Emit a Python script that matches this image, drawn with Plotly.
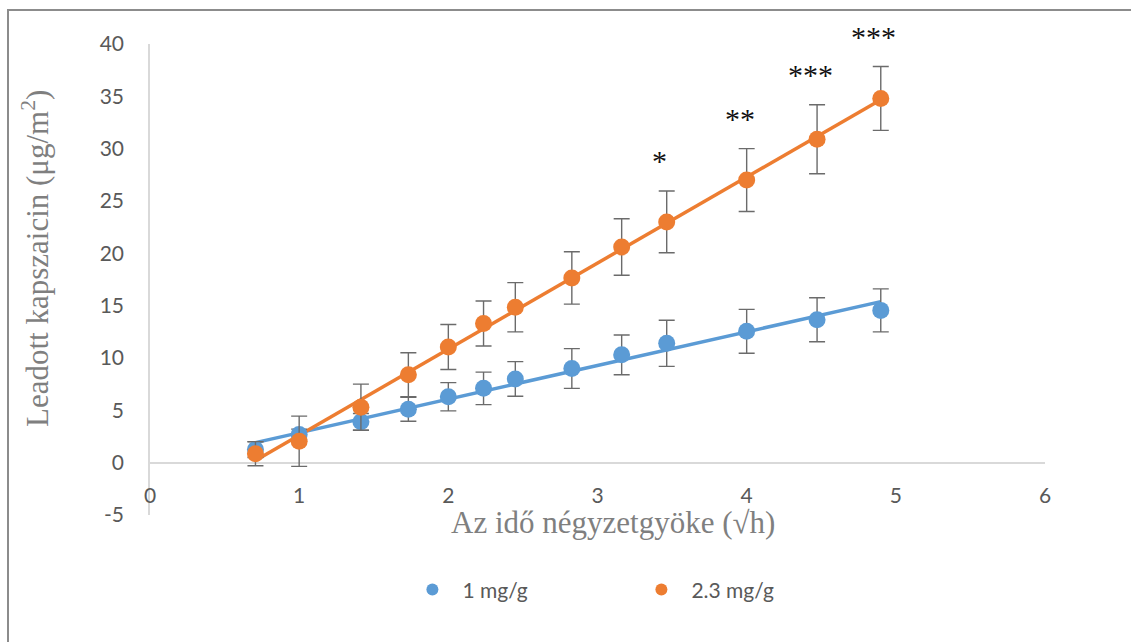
import numpy as np
import plotly.graph_objects as go

# ---- data ----
x_sqrt_h = [0.707, 1.0, 1.414, 1.732, 2.0, 2.236, 2.449, 2.828, 3.162, 3.464, 4.0, 4.472, 4.899]
y_1mg = [1.25, 2.7, 3.9, 5.1, 6.3, 7.1, 8.0, 9.0, 10.3, 11.4, 12.55, 13.65, 14.55]
err_1mg = [0.75, 0.5, 0.8, 1.15, 1.35, 1.55, 1.65, 1.9, 1.9, 2.2, 2.1, 2.1, 2.05]
y_23mg = [0.86, 2.05, 5.3, 8.4, 11.05, 13.3, 14.85, 17.65, 20.6, 23.0, 27.0, 30.9, 34.8]
err_23mg = [1.15, 2.4, 2.2, 2.1, 2.15, 2.15, 2.35, 2.5, 2.7, 2.95, 3.0, 3.3, 3.05]
sig_labels = ["", "", "", "", "", "", "", "", "", "*", "**", "***", "***"]
series_names = ["1 mg/g", "2.3 mg/g"]
y_ticks = [-5, 0, 5, 10, 15, 20, 25, 30, 35, 40]
y_tick_labels = ["-5", "0", "5", "10", "15", "20", "25", "30", "35", "40"]
x_ticks = [0, 1, 2, 3, 4, 5, 6]

BLUE = "#5B9BD5"
ORANGE = "#ED7D31"
GRAY_TXT = "#595959"
TICK_FONT = dict(family="Lato, Open Sans, sans-serif", size=21, color=GRAY_TXT)

fig = go.Figure()

# trendlines (linear least squares, as the Excel trendline)
xs = np.array(x_sqrt_h)
xline = np.array([xs.min(), xs.max()])
for ys, col in [(y_1mg, BLUE), (y_23mg, ORANGE)]:
    k, b = np.polyfit(xs, np.array(ys), 1)
    fig.add_trace(go.Scatter(x=xline, y=k * xline + b, mode="lines",
                             line=dict(color=col, width=3.5), showlegend=False,
                             hoverinfo="skip"))

for ys, es, col, name in [(y_1mg, err_1mg, BLUE, series_names[0]),
                          (y_23mg, err_23mg, ORANGE, series_names[1])]:
    fig.add_trace(go.Scatter(
        x=x_sqrt_h, y=ys, mode="markers", name=name,
        marker=dict(color=col, size=17),
        error_y=dict(type="data", array=es, visible=True,
                     color="#6b6b6b", thickness=1.4, width=8),
    ))

# significance asterisks above the 2.3 mg/g error bars
for xv, yv, ev, lab in zip(x_sqrt_h, y_23mg, err_23mg, sig_labels):
    if lab:
        fig.add_annotation(x=xv, y=yv + ev, text=lab, showarrow=False,
                           xanchor="center", yanchor="bottom", yshift=12, xshift=-7,
                           font=dict(family="Liberation Serif, serif", size=30, color="#111111"))

fig.update_layout(
    width=1131, height=642,
    margin=dict(l=150, r=86, t=44, b=127),
    paper_bgcolor="white", plot_bgcolor="white",
    showlegend=True,
    legend=dict(orientation="h", x=0.282, xanchor="left", y=-0.159, yanchor="middle",
                font=dict(family="Lato, Open Sans, sans-serif", size=21, color=GRAY_TXT),
                entrywidth=164, entrywidthmode="pixels", itemsizing="constant",
                itemwidth=50, bgcolor="rgba(0,0,0,0)"),
    xaxis=dict(range=[0, 6], tickvals=x_ticks, showgrid=False, zeroline=False,
               showline=False, ticks="", anchor="free", position=5 / 45,
               ticklabelstandoff=18, tickfont=TICK_FONT),
    yaxis=dict(range=[-5, 40], tickvals=y_ticks, ticktext=y_tick_labels,
               showgrid=False, zeroline=True, zerolinecolor="#d9d9d9", zerolinewidth=1.5,
               showline=True, linecolor="#d9d9d9", linewidth=1.5, ticks="",
               ticklabelstandoff=20, tickfont=TICK_FONT),
)

# axis titles
fig.add_annotation(xref="paper", yref="paper", x=(613 - 150) / 895, y=(515 - 522) / 471,
                   text="Az idő négyzetgyöke (√h)", showarrow=False,
                   xanchor="center", yanchor="middle",
                   font=dict(family="Liberation Serif, serif", size=31, color="#7f7f7f"))
fig.add_annotation(xref="paper", yref="paper", x=(35 - 150) / 895, y=(515 - 259) / 471,
                   text="Leadott kapszaicin (μg/m<sup>2</sup>)", showarrow=False, textangle=-90,
                   xanchor="center", yanchor="middle",
                   font=dict(family="Liberation Serif, serif", size=31, color="#7f7f7f"))

# outer chart border
fig.add_shape(type="rect", xref="paper", yref="paper",
              x0=(8 - 150) / 895, x1=(1200 - 150) / 895,
              y0=(515 - 700) / 471, y1=(515 - 10) / 471,
              line=dict(color="#8c8c8c", width=2), fillcolor="rgba(0,0,0,0)", layer="below")

fig.write_html("out.html")
